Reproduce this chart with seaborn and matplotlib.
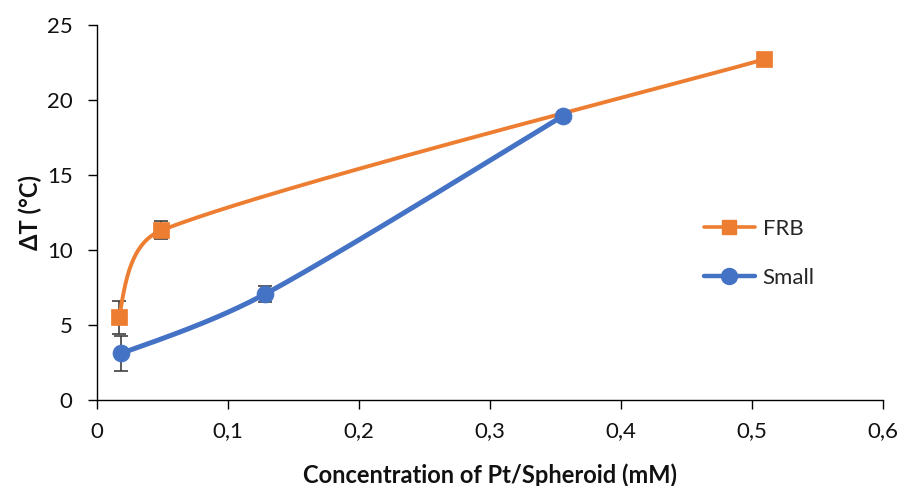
import numpy as np
import matplotlib
matplotlib.use("Agg")
import matplotlib.pyplot as plt
import seaborn as sns
from matplotlib.ticker import FuncFormatter
from matplotlib.lines import Line2D

# ---- data ----
frb_x = [0.017, 0.049, 0.509]
frb_y = [5.5, 11.3, 22.7]
frb_err = [1.1, 0.6, 0.0]

small_x = [0.018, 0.128, 0.356]
small_y = [3.1, 7.05, 18.95]
small_err = [1.15, 0.55, 0.0]

series_names = ["FRB", "Small"]
x_ticks = [0, 0.1, 0.2, 0.3, 0.4, 0.5, 0.6]
y_ticks = [0, 5, 10, 15, 20, 25]

ORANGE = "#ED7D31"
BLUE = "#4472C4"

sns.set_style("white")
plt.rcParams["font.family"] = ["Lato", "DejaVu Sans"]

fig = plt.figure(figsize=(9, 4.86), dpi=100)
ax = fig.add_axes([0.1078, 0.177, 0.8733, 0.7716])
ax.set_xlim(0, 0.6)
ax.set_ylim(0, 25)

# pixel scale factors to smooth in display-like space
SX = 1308.0  # px per unit x
SY = 15.0    # px per unit y


def smooth_curve(xs, ys, n=80):
    P = np.column_stack([np.array(xs) * SX, np.array(ys) * SY])
    m = len(P)
    chord = {}
    for i in range(1, m - 1):
        chord[i] = P[i + 1] - P[i - 1]
    out = []
    for i in range(m - 1):
        p0, p1 = P[i], P[i + 1]
        seg = np.linalg.norm(p1 - p0)
        c0 = c1 = None
        if i in chord:
            d = chord[i]
            L = min(np.linalg.norm(d) / 6.0, seg / 3.0)
            c0 = p0 + d / np.linalg.norm(d) * L
        if (i + 1) in chord:
            d = chord[i + 1]
            L = min(np.linalg.norm(d) / 6.0, seg / 3.0)
            c1 = p1 - d / np.linalg.norm(d) * L
        if c0 is None and c1 is None:
            c0 = p0 + (p1 - p0) / 3.0
            c1 = p1 - (p1 - p0) / 3.0
        elif c0 is None:
            c0 = p0 + (c1 - p0) * 0.5
        elif c1 is None:
            c1 = p1 - (p1 - p0) / 6.0
        t = np.linspace(0, 1, n)[:, None]
        b = ((1 - t) ** 3) * p0 + 3 * ((1 - t) ** 2) * t * c0 + 3 * (1 - t) * t ** 2 * c1 + t ** 3 * p1
        out.append(b if i == 0 else b[1:])
    B = np.vstack(out)
    return B[:, 0] / SX, B[:, 1] / SY


# error bars (drawn first, behind)
for xs, ys, es in [(frb_x, frb_y, frb_err), (small_x, small_y, small_err)]:
    xe = [x for x, e in zip(xs, es) if e > 0]
    ye = [y for y, e in zip(ys, es) if e > 0]
    ee = [e for e in es if e > 0]
    ax.errorbar(xe, ye, yerr=ee, fmt="none", ecolor="#404040", elinewidth=1.2,
                capsize=5, capthick=1.2, zorder=2)

# smoothed lines
fx, fy = smooth_curve(frb_x, frb_y)
sx_, sy_ = smooth_curve(small_x, small_y)
ax.plot(fx, fy, color=ORANGE, lw=2.8, zorder=3, solid_capstyle="round")
ax.plot(sx_, sy_, color=BLUE, lw=3.6, zorder=3, solid_capstyle="round")

# markers
sns.scatterplot(x=frb_x, y=frb_y, marker="s", s=130, color=ORANGE, edgecolor=ORANGE,
                linewidth=0.5, zorder=4, ax=ax)
sns.scatterplot(x=small_x, y=small_y, marker="o", s=150, color=BLUE, edgecolor=BLUE,
                linewidth=0.5, zorder=4, ax=ax)

# axes styling
for s in ["top", "right"]:
    ax.spines[s].set_visible(False)
for s in ["left", "bottom"]:
    ax.spines[s].set_color("black")
    ax.spines[s].set_linewidth(1.0)
ax.set_xticks(x_ticks)
ax.set_yticks(y_ticks)
ax.xaxis.set_major_formatter(FuncFormatter(lambda v, p: ("%g" % round(v, 2)).replace(".", ",")))
ax.tick_params(axis="both", direction="out", length=6.5, width=1.0, color="black",
               labelsize=16, labelcolor="#111111", bottom=True, left=True)
ax.tick_params(axis="x", pad=9)
ax.tick_params(axis="y", pad=11)
ax.grid(False)

ax.set_xlabel("Concentration of Pt/Spheroid (mM)", fontsize=17, fontweight="bold",
              color="#111111", va="center")
ax.set_ylabel("ΔT (°C)", fontsize=17, fontweight="bold", color="#111111", va="center")
ax.xaxis.set_label_coords(0.5, -0.2)
ax.yaxis.set_label_coords(-0.085, 0.5)

handles = [
    Line2D([], [], color=ORANGE, lw=2.6, marker="s", markersize=10.5, markerfacecolor=ORANGE,
           markeredgecolor=ORANGE),
    Line2D([], [], color=BLUE, lw=3.2, marker="o", markersize=11.5, markerfacecolor=BLUE,
           markeredgecolor=BLUE),
]
ax.legend(handles, series_names, loc="center left", bbox_to_anchor=(0.772, 0.391),
          frameon=False, fontsize=16, handlelength=2.3, labelspacing=1.3,
          handletextpad=0.35, borderpad=0, borderaxespad=0)

fig.savefig("out.png", dpi=100)
